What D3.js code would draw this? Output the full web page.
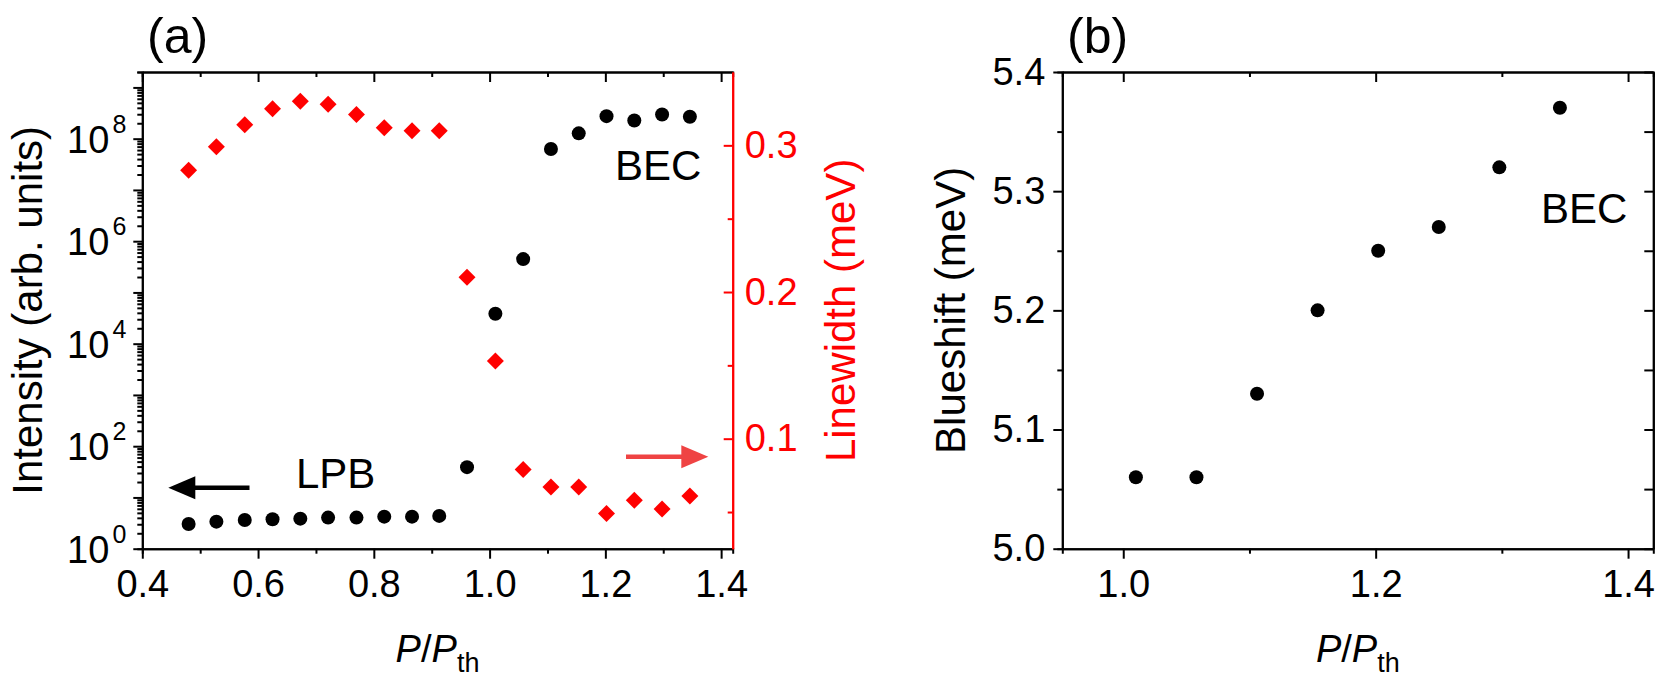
<!DOCTYPE html>
<html>
<head>
<meta charset="utf-8">
<script src="https://cdn.jsdelivr.net/npm/d3@7"></script>
<style>
  body { margin: 0; background: #fff; }
  svg { display: block; font-family: "Liberation Sans", Arial, sans-serif; }
</style>
</head>
<body>
<div id="chart"></div>
<script>
// P/Pth values shared by both panels
const pRatio = [0.480, 0.528, 0.577, 0.625, 0.673, 0.721, 0.770, 0.818, 0.866, 0.913,
                0.961, 1.010, 1.058, 1.106, 1.154, 1.202, 1.250, 1.298, 1.346]
const intensity = [3.04, 3.37, 3.64, 3.76, 3.86, 4.04, 4.04, 4.22, 4.22, 4.36,
                   39, 3.83e4, 4.47e5, 6.3e7, 1.27e8, 2.75e8, 2.27e8, 2.97e8, 2.67e8]
const linewidth = [0.283, 0.299, 0.314, 0.325, 0.330, 0.328, 0.321, 0.312, 0.310, 0.310,
                   0.210, 0.153, 0.079, 0.067, 0.067, 0.049, 0.058, 0.052, 0.061]
const becRatio = [1.010, 1.058, 1.106, 1.154, 1.202, 1.250, 1.298, 1.346]
const blueshift = [5.06, 5.06, 5.13, 5.20, 5.25, 5.27, 5.32, 5.37]

const xTicksA = [0.4, 0.6, 0.8, 1.0, 1.2, 1.4]
const xMinorA = [0.5, 0.7, 0.9, 1.1, 1.3]
const yDecades = [0, 1, 2, 3, 4, 5, 6, 7, 8, 9]
const yLabelExp = [0, 2, 4, 6, 8]
const lwTicks = [0.1, 0.2, 0.3]
const lwMinor = [0.05, 0.15, 0.25]
const xTicksB = [1.0, 1.2, 1.4]
const xMinorB = [1.1, 1.3]
const yTicksB = [5.0, 5.1, 5.2, 5.3, 5.4]
const yMinorB = [5.05, 5.15, 5.25, 5.35]

const W = 1661, H = 682
const RED = "#ff0000"
const tickFont = 38, titleFont = 42

const svg = d3.select("#chart").append("svg")
    .attr("width", W)
    .attr("height", H)

const A = { left: 142.3, right: 732.7, top: 72, bottom: 548.7 }
const B = { left: 1062.3, right: 1653.3, top: 72, bottom: 548.7 }

function styleAxis(g, color) {
    g.attr("font-size", tickFont).attr("font-family", "'Liberation Sans', Arial, sans-serif")
    g.selectAll("path, line").attr("stroke", color).attr("stroke-width", 2)
    g.selectAll("text").attr("fill", color)
}

// ---------- panel (a) ----------
const xA = d3.scaleLinear().domain([0.4, 1.42]).range([A.left, A.right])
const yA = d3.scaleLog().domain([1, 2e9]).range([A.bottom, A.top])
const yLW = d3.scaleLinear().domain([0.025, 0.35]).range([A.bottom, A.top])

// bottom
svg.append("g").attr("transform", `translate(0,${A.bottom})`)
    .call(d3.axisBottom(xA).tickValues(xMinorA).tickSize(5).tickFormat(""))
    .call(g => styleAxis(g, "#000"))
svg.append("g").attr("transform", `translate(0,${A.bottom})`)
    .call(d3.axisBottom(xA).tickValues(xTicksA).tickSize(10).tickSizeOuter(0).tickPadding(11).tickFormat(d3.format(".1f")))
    .call(g => styleAxis(g, "#000"))
// top (ticks inward)
svg.append("g").attr("transform", `translate(0,${A.top})`)
    .call(d3.axisBottom(xA).tickValues(xMinorA).tickSize(5).tickFormat(""))
    .call(g => styleAxis(g, "#000"))
svg.append("g").attr("transform", `translate(0,${A.top})`)
    .call(d3.axisBottom(xA).tickValues(xTicksA).tickSize(10).tickSizeOuter(0).tickFormat(""))
    .call(g => styleAxis(g, "#000"))

// left log axis
const minorLog = []
yDecades.forEach(e => {
    for (let m = 2; m <= 9; m++) {
        const v = m * Math.pow(10, e)
        if (v <= 2e9) minorLog.push(v)
    }
})
svg.append("g").attr("transform", `translate(${A.left},0)`)
    .call(d3.axisLeft(yA).tickValues(minorLog).tickSize(5).tickFormat(""))
    .call(g => styleAxis(g, "#000"))
svg.append("g").attr("transform", `translate(${A.left},0)`)
    .call(d3.axisLeft(yA).tickValues(yDecades.map(e => Math.pow(10, e))).tickSize(9).tickSizeOuter(0).tickFormat(""))
    .call(g => styleAxis(g, "#000"))

const expLabels = svg.append("g").selectAll("text")
    .data(yLabelExp)
    .enter().append("text")
    .attr("x", A.left - 16)
    .attr("y", d => yA(Math.pow(10, d)) + 14)
    .attr("text-anchor", "end")
    .attr("font-size", tickFont)
expLabels.append("tspan").text("10")
expLabels.append("tspan").attr("dx", 3).attr("dy", -20).attr("font-size", 25).text(d => d)

// right linewidth axis (red, ticks inward)
svg.append("g").attr("transform", `translate(${A.right},0)`)
    .call(d3.axisRight(yLW).tickValues(lwMinor).tickSizeInner(-5).tickSizeOuter(0).tickFormat(""))
    .call(g => styleAxis(g, RED))
svg.append("g").attr("transform", `translate(${A.right},0)`)
    .call(d3.axisRight(yLW).tickValues(lwTicks).tickSizeInner(-9).tickSizeOuter(0).tickPadding(12).tickFormat(d3.format(".1f")))
    .call(g => styleAxis(g, RED))

// points
svg.append("g").selectAll("circle")
    .data(pRatio)
    .enter().append("circle")
    .attr("cx", d => xA(d))
    .attr("cy", (d, i) => yA(intensity[i]))
    .attr("r", 7)
    .attr("fill", "#000")

const diamond = d3.symbol().type(d3.symbolSquare).size(144)
svg.append("g").selectAll("path")
    .data(pRatio)
    .enter().append("path")
    .attr("d", diamond)
    .attr("transform", (d, i) => `translate(${xA(d)},${yLW(linewidth[i])}) rotate(45)`)
    .attr("fill", RED)

// arrows + labels
function arrow(x1, x2, y, color) {
    const dir = Math.sign(x2 - x1)
    svg.append("line")
        .attr("x1", x1).attr("x2", x2 - dir * 26)
        .attr("y1", y).attr("y2", y)
        .attr("stroke", color).attr("stroke-width", 4.5)
    svg.append("path")
        .attr("d", `M${x2},${y} L${x2 - dir * 27},${y - 11.5} L${x2 - dir * 27},${y + 11.5} Z`)
        .attr("fill", color)
}
arrow(249.5, 168.3, 487.7, "#000")
arrow(626, 708.3, 456.7, "#ef4343")

svg.append("text").attr("x", 296).attr("y", 488.3)
    .attr("font-size", titleFont).text("LPB")
svg.append("text").attr("x", 615).attr("y", 180)
    .attr("font-size", titleFont).text("BEC")

// titles
svg.append("text")
    .attr("transform", `translate(42,${(A.top + A.bottom) / 2}) rotate(-90)`)
    .attr("text-anchor", "middle").attr("font-size", titleFont)
    .text("Intensity (arb. units)")
svg.append("text")
    .attr("transform", `translate(855,${(A.top + A.bottom) / 2}) rotate(-90)`)
    .attr("text-anchor", "middle").attr("font-size", titleFont).attr("fill", RED)
    .text("Linewidth (meV)")

function xTitle(cx) {
    const t = svg.append("text")
        .attr("x", cx).attr("y", 662)
        .attr("text-anchor", "middle").attr("font-size", tickFont)
    t.append("tspan").attr("font-style", "italic").text("P")
    t.append("tspan").text("/")
    t.append("tspan").attr("font-style", "italic").text("P")
    t.append("tspan").attr("dy", 10).attr("font-size", 27).text("th")
}
xTitle((A.left + A.right) / 2)

svg.append("text").attr("x", 147).attr("y", 53)
    .attr("font-size", 50).text("(a)")

// ---------- panel (b) ----------
const xB = d3.scaleLinear().domain([0.9517, 1.42]).range([B.left, B.right])
const yB = d3.scaleLinear().domain([5.0, 5.4]).range([B.bottom, B.top])

svg.append("g").attr("transform", `translate(0,${B.bottom})`)
    .call(d3.axisBottom(xB).tickValues(xMinorB).tickSize(5).tickFormat(""))
    .call(g => styleAxis(g, "#000"))
svg.append("g").attr("transform", `translate(0,${B.bottom})`)
    .call(d3.axisBottom(xB).tickValues(xTicksB).tickSize(10).tickSizeOuter(0).tickPadding(11).tickFormat(d3.format(".1f")))
    .call(g => styleAxis(g, "#000"))
svg.append("g").attr("transform", `translate(0,${B.top})`)
    .call(d3.axisBottom(xB).tickValues(xMinorB).tickSize(5).tickFormat(""))
    .call(g => styleAxis(g, "#000"))
svg.append("g").attr("transform", `translate(0,${B.top})`)
    .call(d3.axisBottom(xB).tickValues(xTicksB).tickSize(10).tickSizeOuter(0).tickFormat(""))
    .call(g => styleAxis(g, "#000"))

svg.append("g").attr("transform", `translate(${B.left},0)`)
    .call(d3.axisLeft(yB).tickValues(yMinorB).tickSize(5).tickFormat(""))
    .call(g => styleAxis(g, "#000"))
svg.append("g").attr("transform", `translate(${B.left},0)`)
    .call(d3.axisLeft(yB).tickValues(yTicksB).tickSize(9).tickSizeOuter(0).tickPadding(8).tickFormat(d3.format(".1f")))
    .call(g => styleAxis(g, "#000"))
svg.append("g").attr("transform", `translate(${B.right},0)`)
    .call(d3.axisRight(yB).tickValues(yMinorB).tickSizeInner(-9).tickSizeOuter(0).tickFormat(""))
    .call(g => styleAxis(g, "#000"))
svg.append("g").attr("transform", `translate(${B.right},0)`)
    .call(d3.axisRight(yB).tickValues(yTicksB).tickSizeInner(-9).tickSizeOuter(0).tickFormat(""))
    .call(g => styleAxis(g, "#000"))

svg.append("g").selectAll("circle")
    .data(becRatio)
    .enter().append("circle")
    .attr("cx", d => xB(d))
    .attr("cy", (d, i) => yB(blueshift[i]))
    .attr("r", 7)
    .attr("fill", "#000")

svg.append("text").attr("x", 1541).attr("y", 222.7)
    .attr("font-size", titleFont).text("BEC")

svg.append("text")
    .attr("transform", `translate(965,${(B.top + B.bottom) / 2}) rotate(-90)`)
    .attr("text-anchor", "middle").attr("font-size", titleFont)
    .text("Blueshift (meV)")
xTitle((B.left + B.right) / 2)

svg.append("text").attr("x", 1067).attr("y", 53)
    .attr("font-size", 50).text("(b)")
</script>
</body>
</html>
